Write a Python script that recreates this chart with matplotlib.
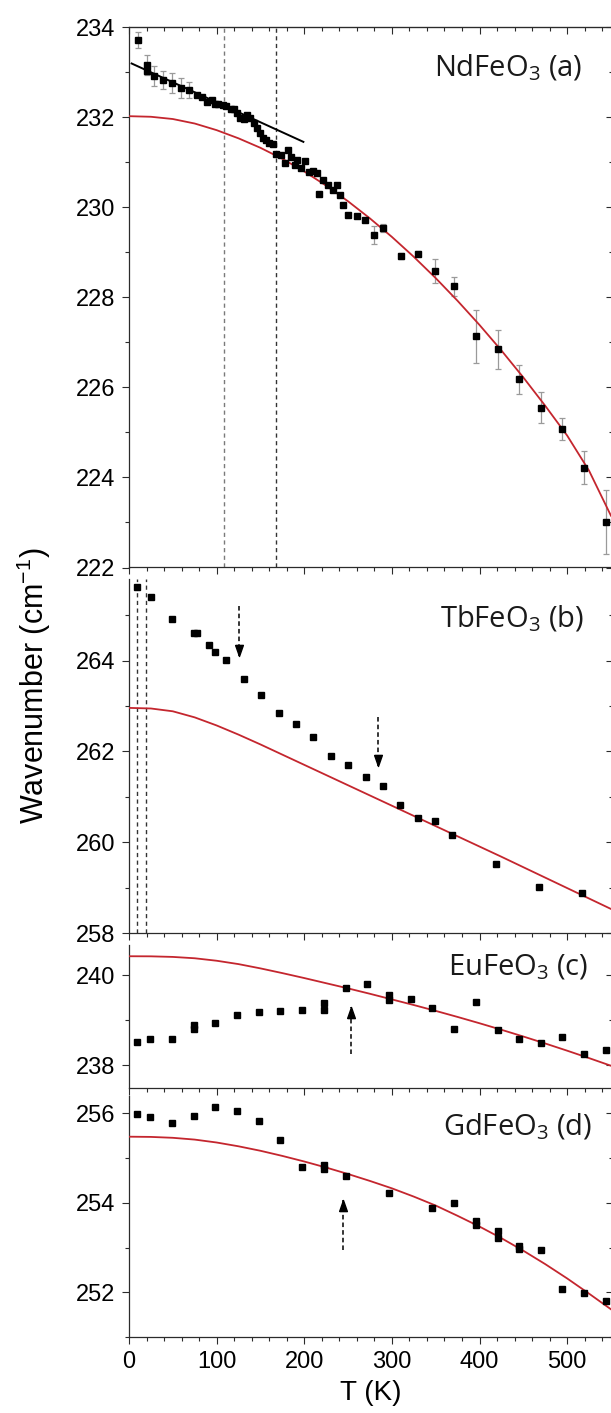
import matplotlib
matplotlib.use("Agg")
import matplotlib.pyplot as plt
from matplotlib.ticker import MultipleLocator, NullFormatter

plt.rcParams["font.family"] = ["Liberation Sans", "DejaVu Sans"]
plt.rcParams["mathtext.fontset"] = "custom"
plt.rcParams["mathtext.rm"] = "Liberation Sans"
plt.rcParams["mathtext.it"] = "Liberation Sans:italic"
plt.rcParams["mathtext.default"] = "regular"

# ---- data ----
# (a) NdFeO3
nd_T = [9.9, 20.2, 21.0, 28.9, 39.2, 48.7, 59.4, 68.9, 77.2, 83.0, 88.7, 94.4, 98.2,
        102.0, 106.9, 110.7, 116.1, 119.9, 123.7, 126.7, 131.3, 135.1, 138.1, 142.7,
        146.5, 149.5, 152.6, 156.4, 160.2, 164.0, 167.8, 173.1, 178.1, 181.9, 184.6,
        189.5, 192.2, 196.0, 200.9, 205.9, 210.4, 214.2, 216.9, 221.8, 227.6, 233.3,
        237.8, 240.9, 243.9, 250.4, 259.9, 269.4, 279.7, 289.6, 310.1, 330.3, 349.3,
        371.4, 396.1, 420.8, 445.6, 470.0, 494.7, 519.8, 544.5]
nd_w = [233.71, 233.16, 233.03, 232.91, 232.82, 232.76, 232.64, 232.60, 232.49, 232.45,
        232.34, 232.38, 232.30, 232.29, 232.27, 232.24, 232.19, 232.17, 232.08, 231.99,
        231.95, 232.04, 231.97, 231.87, 231.75, 231.64, 231.53, 231.49, 231.43, 231.41,
        231.19, 231.16, 230.99, 231.27, 231.12, 230.93, 231.04, 230.86, 231.02, 230.79,
        230.81, 230.75, 230.29, 230.60, 230.49, 230.38, 230.49, 230.27, 230.04, 229.82,
        229.80, 229.71, 229.39, 229.54, 228.92, 228.97, 228.58, 228.24, 227.13, 226.84,
        226.18, 225.55, 225.07, 224.22, 223.01]
nd_err = [0.17, 0.22, 0.0, 0.22, 0.20, 0.22, 0.22, 0.17] + [0.0] * 44 + \
         [0.20, 0.09, 0.06, 0.05, 0.26, 0.21, 0.58, 0.44, 0.32, 0.35, 0.25, 0.36, 0.70]
nd_lin_T = [3, 199]
nd_lin_w = [233.19, 231.45]
nd_marks = [108, 168]

# (b) TbFeO3
tb_T = [9.5, 24.7, 48.7, 74.6, 77.2, 91.3, 98.6, 111.1, 131.3, 151.1, 170.9, 190.6,
        210.4, 230.2, 250.0, 270.2, 290.0, 309.7, 329.5, 349.3, 369.1, 418.6, 468.0, 517.5]
tb_w = [265.62, 265.40, 264.91, 264.60, 264.60, 264.34, 264.20, 264.01, 263.60, 263.25,
        262.85, 262.60, 262.31, 261.90, 261.70, 261.43, 261.25, 260.81, 260.54, 260.47,
        260.15, 259.53, 259.02, 258.88]
tb_marks = [9.5, 19.5]
tb_arrow_T = [126, 284.6]
tb_arrow_from = [265.2, 262.77]
tb_arrow_to = [264.11, 261.67]

# (c) EuFeO3
eu_T = [8.8, 24.0, 48.7, 73.8, 73.8, 98.6, 122.9, 148.4, 172.7, 197.5, 222.6, 222.6,
        247.3, 272.0, 296.8, 296.8, 321.6, 346.3, 371.0, 395.8, 420.8, 445.6, 470.0,
        494.7, 519.8, 544.5]
eu_w = [238.52, 238.59, 238.57, 238.80, 238.90, 238.94, 239.11, 239.19, 239.20, 239.22,
        239.39, 239.22, 239.72, 239.81, 239.56, 239.44, 239.48, 239.26, 238.80, 239.41,
        238.79, 238.58, 238.50, 238.63, 238.24, 238.33]
eu_arrow_T = [253]
eu_arrow_from = [238.25]
eu_arrow_to = [239.3]

# (d) GdFeO3
gd_T = [9.5, 24.0, 48.7, 73.8, 98.6, 122.9, 148.0, 172.7, 197.5, 222.6, 222.6, 247.3,
        296.8, 346.3, 371.0, 395.8, 395.8, 420.8, 420.8, 445.6, 445.6, 470.0, 494.7,
        519.2, 544.5]
gd_w = [255.98, 255.93, 255.78, 255.95, 256.14, 256.06, 255.82, 255.41, 254.81, 254.85,
        254.75, 254.61, 254.23, 253.89, 254.00, 253.59, 253.50, 253.37, 253.22, 253.04,
        252.96, 252.94, 252.07, 251.98, 251.80]
gd_arrow_T = [244.7]
gd_arrow_from = [252.94]
gd_arrow_to = [254.06]

# anharmonic fit curves (red), read every 25 K
fit_T = [0, 25, 50, 75, 100, 125, 150, 175, 200, 225, 250, 275, 300, 325, 350, 375,
         400, 425, 450, 475, 500, 525, 550]
nd_fit = [232.02, 232.007, 231.957, 231.857, 231.71, 231.528, 231.318, 231.074, 230.793,
          230.478, 230.13, 229.75, 229.34, 228.898, 228.425, 227.92, 227.385, 226.818,
          226.22, 225.59, 224.93, 224.15, 223.15]
tb_fit = [262.96, 262.947, 262.885, 262.751, 262.573, 262.371, 262.155, 261.93, 261.705,
          261.48, 261.255, 261.03, 260.805, 260.58, 260.355, 260.13, 259.905, 259.68,
          259.45, 259.22, 258.99, 258.76, 258.53]
eu_fit = [240.42, 240.418, 240.405, 240.375, 240.32, 240.245, 240.15, 240.045, 239.935,
          239.82, 239.705, 239.585, 239.46, 239.335, 239.205, 239.07, 238.93, 238.785,
          238.635, 238.48, 238.32, 238.155, 237.985]
gd_fit = [255.48, 255.475, 255.455, 255.415, 255.35, 255.265, 255.165, 255.05, 254.925,
          254.79, 254.645, 254.49, 254.325, 254.14, 253.94, 253.71, 253.47, 253.21,
          252.93, 252.63, 252.31, 251.97, 251.62]

labels = ["NdFeO$_3$ (a)", "TbFeO$_3$ (b)", "EuFeO$_3$ (c)", "GdFeO$_3$ (d)"]

# ---- layout (pixels of the 611x1413 canvas) ----
W, H = 611, 1413
left_px, right_px = 129, 612.7
panels = [  # top, bottom, ylim, label x, label baseline
    (27, 567.5, (222, 234), 582, 76),
    (579, 933, (258, 265.8), 584, 627),
    (945, 1088, (237.49, 240.67), 588, 975),
    (1096, 1337, (251.0, 256.39), 592, 1135),
]

axcol = "#2b2b2b"
red = "#c4262e"

fig = plt.figure(figsize=(W / 100, H / 100), dpi=100)
axes = []
for i, (top, bot, ylim, lx, lb) in enumerate(panels):
    ax = fig.add_axes([left_px / W, 1 - bot / H, (right_px - left_px) / W, (bot - top) / H])
    ax.set_xlim(0, 552)
    ax.set_ylim(*ylim)
    for s in ax.spines.values():
        s.set_color(axcol)
        s.set_linewidth(0.9)
    ax.spines["top"].set_visible(False)
    ax.xaxis.set_major_locator(MultipleLocator(100))
    ax.xaxis.set_minor_locator(MultipleLocator(20))
    ax.yaxis.set_major_locator(MultipleLocator(2))
    ax.yaxis.set_minor_locator(MultipleLocator(1))
    ax.tick_params(which="both", direction="out", color=axcol, width=0.8,
                   labelsize=17, right=False, top=False, pad=5)
    ax.tick_params(which="major", length=5)
    ax.tick_params(which="minor", length=3)
    if i < 3:
        ax.xaxis.set_major_formatter(NullFormatter())
    sec = ax.secondary_yaxis("right")
    sec.yaxis.set_major_locator(MultipleLocator(2))
    sec.yaxis.set_minor_locator(MultipleLocator(1))
    sec.tick_params(which="both", direction="in", color=axcol, width=0.8, labelright=False)
    sec.tick_params(which="major", length=5)
    sec.tick_params(which="minor", length=3)
    sec.spines["right"].set_color(axcol)
    if i == 0:
        ax.spines["top"].set_visible(True)
        topx = ax.secondary_xaxis("top")
        topx.xaxis.set_major_locator(MultipleLocator(100))
        topx.xaxis.set_minor_locator(MultipleLocator(20))
        topx.tick_params(which="both", direction="in", color=axcol, width=0.8, labeltop=False)
        topx.tick_params(which="major", length=5)
        topx.tick_params(which="minor", length=3)
        topx.spines["top"].set_color(axcol)
    ax.text((lx - left_px) / (right_px - left_px), 1 - (lb - top) / (bot - top), labels[i],
            transform=ax.transAxes, ha="right", va="baseline", fontsize=21,
            family=["Open Sans", "DejaVu Sans"], color="#1a1a1a")
    axes.append(ax)

ax_a, ax_b, ax_c, ax_d = axes
msq = dict(marker="s", ms=4.8, color="black", ls="none", zorder=4)


def dashed_arrow(ax, xs, ys0, ys1):
    for x, y0, y1 in zip(xs, ys0, ys1):
        ax.plot([x, x], [y0, y1], color="black", lw=1.1, dashes=(3, 2), zorder=5)
        if y1 < y0:
            verts = [(-0.35, 1), (0.35, 1), (0, 0), (-0.35, 1)]
        else:
            verts = [(-0.35, -1), (0.35, -1), (0, 0), (-0.35, -1)]
        ax.plot([x], [y1], marker=verts, ms=16, color="black", ls="none", zorder=6)


# (a)
ax_a.axvline(nd_marks[0], color="#7a7a7a", lw=1.0, dashes=(3, 2.5), zorder=1)
ax_a.axvline(nd_marks[1], color="#333333", lw=1.0, dashes=(3, 2.5), zorder=1)
ax_a.plot(fit_T, nd_fit, color=red, lw=1.3, zorder=3)
ax_a.errorbar(nd_T, nd_w, yerr=nd_err, fmt="none", ecolor="#9a9a9a", elinewidth=0.9,
              capsize=2.5, capthick=0.9, zorder=2)
ax_a.plot(nd_T, nd_w, **msq)
ax_a.plot(nd_lin_T, nd_lin_w, color="black", lw=1.4, zorder=5)

# (b)
for t in tb_marks:
    ax_b.axvline(t, color="#333333", lw=1.0, dashes=(3, 2.5), zorder=1)
ax_b.plot(fit_T, tb_fit, color=red, lw=1.3, zorder=3)
ax_b.plot(tb_T, tb_w, **msq)
dashed_arrow(ax_b, tb_arrow_T, tb_arrow_from, tb_arrow_to)

# (c)
ax_c.plot(fit_T, eu_fit, color=red, lw=1.3, zorder=3)
ax_c.plot(eu_T, eu_w, **msq)
dashed_arrow(ax_c, eu_arrow_T, eu_arrow_from, eu_arrow_to)

# (d)
ax_d.plot(fit_T, gd_fit, color=red, lw=1.3, zorder=3)
ax_d.plot(gd_T, gd_w, **msq)
dashed_arrow(ax_d, gd_arrow_T, gd_arrow_from, gd_arrow_to)
ax_d.set_xlabel("T (K)", fontsize=20, labelpad=5)

fig.text(34 / W, 1 - 686 / H, "Wavenumber (cm$^{-1}$)", rotation=90,
         ha="center", va="center", fontsize=22)

fig.savefig("out.png", dpi=100)
